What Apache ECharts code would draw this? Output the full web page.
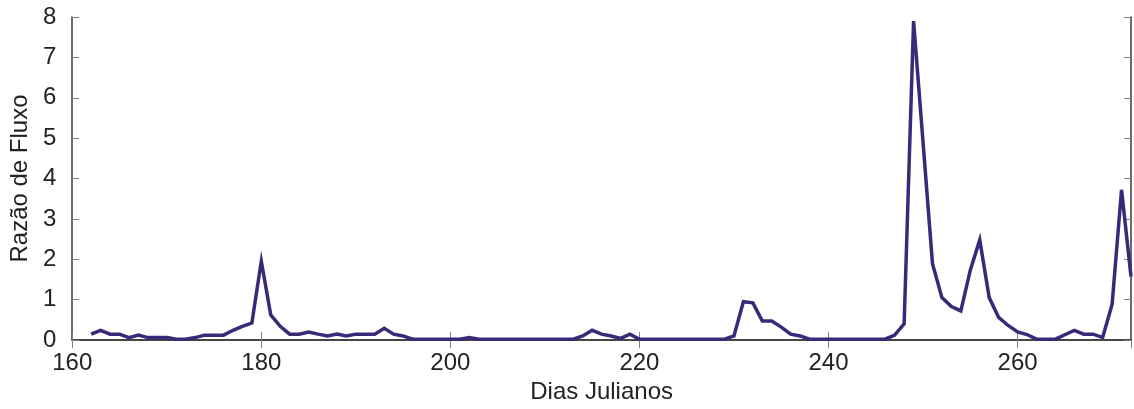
<!DOCTYPE html>
<html>
<head>
<meta charset="utf-8">
<script src="https://cdn.jsdelivr.net/npm/echarts@6/dist/echarts.min.js"></script>
<style>
html,body{margin:0;padding:0;background:#fff;}
#chart{width:1134px;height:409px;}
</style>
</head>
<body>
<div id="chart"></div>
<script>
// Julian days (x) and flux ratio values (y)
const days = [
  162,163,164,165,166,167,168,169,170,171,172,173,174,175,176,177,178,179,180,181,
  182,183,184,185,186,187,188,189,190,191,192,193,194,195,196,197,198,199,200,201,
  202,203,204,205,206,207,208,209,210,211,212,213,214,215,216,217,218,219,220,221,
  222,223,224,225,226,227,228,229,230,231,232,233,234,235,236,237,238,239,240,241,
  242,243,244,245,246,247,248,249,250,251,252,253,254,255,256,257,258,259,260,261,
  262,263,264,265,266,267,268,269,270,271,272
];
const fluxRatio = [
  0.145,0.24,0.145,0.145,0.06,0.12,0.06,0.06,0.06,0.02,0.02,0.06,0.12,0.12,0.12,0.24,0.34,0.42,1.95,0.62,
  0.34,0.145,0.145,0.20,0.145,0.10,0.145,0.10,0.145,0.145,0.145,0.29,0.145,0.10,0.02,0.02,0.02,0.02,0.02,0.02,
  0.06,0.02,0.02,0.02,0.02,0.02,0.02,0.02,0.02,0.02,0.02,0.02,0.10,0.24,0.145,0.10,0.04,0.145,0.02,0.02,
  0.02,0.02,0.02,0.02,0.02,0.02,0.02,0.02,0.10,0.95,0.92,0.47,0.47,0.32,0.145,0.10,0.02,0.02,0.02,0.02,
  0.02,0.02,0.02,0.02,0.02,0.12,0.40,7.9,4.9,1.89,1.05,0.83,0.72,1.73,2.48,1.05,0.56,0.36,0.20,0.135,
  0.02,0.02,0.02,0.13,0.24,0.145,0.145,0.06,0.88,3.72,1.57
];
const xTicks = [160,180,200,220,240,260];
const yTicks = [0,1,2,3,4,5,6,7,8];
const xTitle = 'Dias Julianos';
const yTitle = 'Razão de Fluxo';

const FONT = "'Liberation Sans', Arial, Helvetica, sans-serif";
const textCol = '#222';
const frameCol = '#3a3a3a';
const tickCol = '#808080';

const chart = echarts.init(document.getElementById('chart'), null, {renderer:'canvas'});
const xMin = 160, xMax = 272;
const frameLine = {show:true, lineStyle:{color:frameCol, width:1.5}};
const xTickFmt = v => (xTicks.indexOf(v) >= 0 ? String(v) : '');

chart.setOption({
  animation:false,
  backgroundColor:'#fff',
  grid:{left:68, right:3, top:17, bottom:61, containLabel:false},
  xAxis:[
    {type:'value', position:'bottom', min:xMin, max:xMax, interval:20,
     name:xTitle, nameLocation:'middle', nameGap:40,
     nameTextStyle:{fontFamily:FONT, fontSize:24, color:textCol},
     axisLine:frameLine,
     axisTick:{show:true, inside:true, length:8, lineStyle:{color:tickCol, width:1}},
     axisLabel:{fontFamily:FONT, fontSize:24, color:textCol, margin:11, formatter:xTickFmt,
                showMaxLabel:false},
     splitLine:{show:false}},
    {type:'value', position:'top', min:xMin, max:xMax, interval:20,
     axisLine:frameLine,
     axisTick:{show:true, inside:true, length:8, lineStyle:{color:tickCol, width:1}},
     axisLabel:{show:false}, splitLine:{show:false}}
  ],
  yAxis:[
    {type:'value', position:'left', min:0, max:8, interval:1,
     name:yTitle, nameLocation:'middle', nameGap:28, nameRotate:90,
     nameTextStyle:{fontFamily:FONT, fontSize:24, color:textCol},
     axisLine:frameLine,
     axisTick:{show:true, inside:true, length:7, lineStyle:{color:tickCol, width:1}},
     axisLabel:{fontFamily:FONT, fontSize:24, color:textCol, margin:16,
                formatter:v => (yTicks.indexOf(v) >= 0 ? String(v) : '')},
     splitLine:{show:false}},
    {type:'value', position:'right', min:0, max:8, interval:1,
     axisLine:frameLine,
     axisTick:{show:true, inside:true, length:7, lineStyle:{color:tickCol, width:1}},
     axisLabel:{show:false}, splitLine:{show:false}}
  ],
  series:[{
    type:'line',
    xAxisIndex:0, yAxisIndex:0,
    data: days.map((d,i) => [d, fluxRatio[i]]),
    showSymbol:false, symbol:'none',
    clip:false,
    lineStyle:{color:'#3b2878', width:3.5, join:'miter'},
    z:3
  }]
});
</script>
</body>
</html>
